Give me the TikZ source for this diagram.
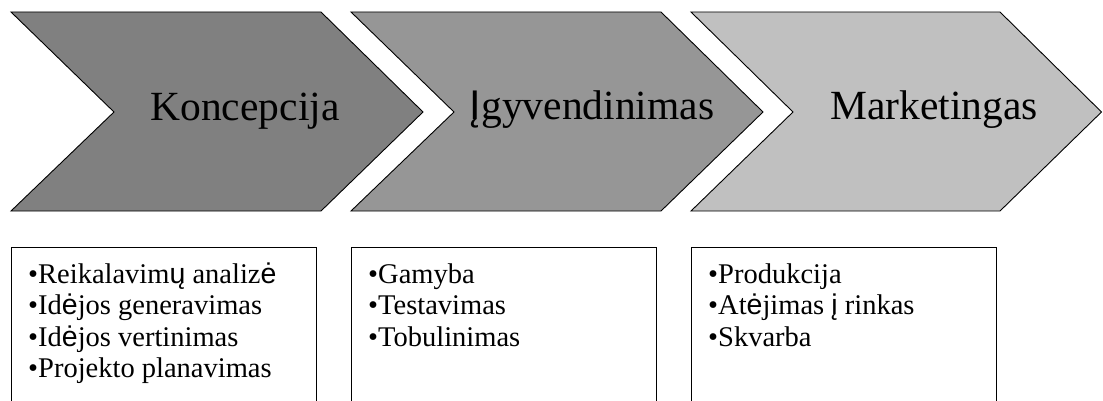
\documentclass[tikz,border=0pt]{standalone}
\usepackage{fontspec}
\setmainfont{Liberation Serif}
\newfontfamily\fbk{Liberation Sans}
\begin{document}
\begin{tikzpicture}[x=1pt,y=-1pt,
  chev/.style={draw=black, line width=0.9pt, line join=miter},
  head/.style={font=\fontsize{41.5}{41.5}\selectfont, anchor=base, inner sep=0pt},
  listbox/.style={draw=black, line width=1pt, overlay},
  items/.style={font=\fontsize{28.5}{31.5}\selectfont, anchor=base west, align=left, inner sep=0pt}]
\useasboundingbox (0,0) rectangle (1103,401);
\definecolor{c1}{RGB}{128,128,128}
\definecolor{c2}{RGB}{150,150,150}
\definecolor{c3}{RGB}{192,192,192}
% chevrons
\draw[chev, fill=c1] (11,12) -- (321,12) -- (423,112) -- (321,211) -- (11,211) -- (114,112) -- cycle;
\draw[chev, fill=c2] (351,12) -- (661,12) -- (763,112) -- (661,211) -- (351,211) -- (454,112) -- cycle;
\draw[chev, fill=c3] (691,12) -- (1000,12) -- (1101.5,112) -- (1000,211) -- (691,211) -- (793,112) -- cycle;
\node[head] (h1) at (245,121) {Koncepcija};
\node[head] (h2) at (592,120) {{\fbk Į}gyvendinimas};
\node[head] (h3) at (934,120) {Marketingas};
% boxes
\draw[listbox] (11,402) -- (11,247) -- (316,247) -- (316,402);
\draw[listbox] (351,402) -- (351,247) -- (656,247) -- (656,402);
\draw[listbox] (691,402) -- (691,247) -- (996,247) -- (996,402);
% base anchor of a multi-line node = baseline of its last line
\node[items] (l1) at (28,377.5) {•Reikalavim{\fbk ų} analiz{\fbk ė}\\•Id{\fbk ė}jos generavimas\\•Id{\fbk ė}jos vertinimas\\•Projekto planavimas};
\node[items] (l2) at (368,346) {•Gamyba\\•Testavimas\\•Tobulinimas};
\node[items] (l3) at (708,346) {•Produkcija\\•At{\fbk ė}jimas {\fbk į} rinkas\\•Skvarba};
\end{tikzpicture}
\end{document}
